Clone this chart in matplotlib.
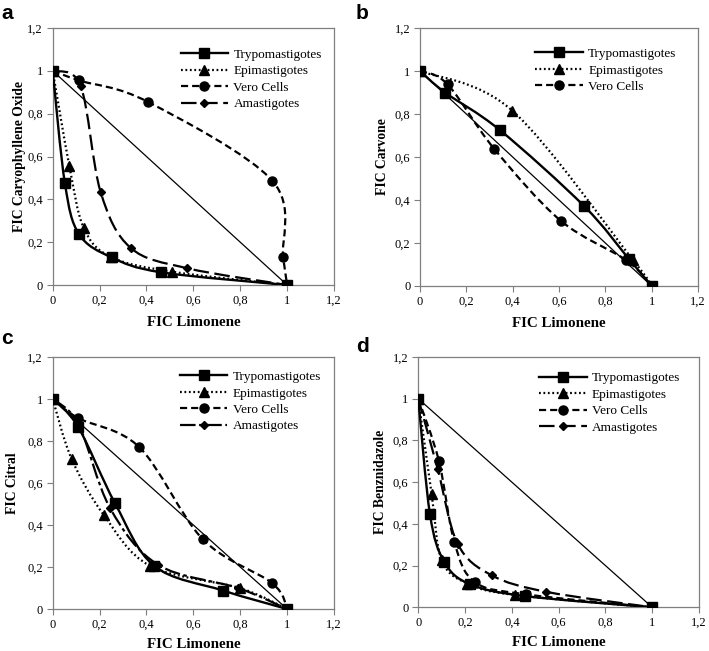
import numpy as np
import matplotlib
matplotlib.use("Agg")
import matplotlib.pyplot as plt
from matplotlib.path import Path
from matplotlib.patches import PathPatch
from matplotlib.lines import Line2D

# ---------------- data ----------------
tick_vals = [0, 0.2, 0.4, 0.6, 0.8, 1.0, 1.2]
tick_labels = ["0", "0,2", "0,4", "0,6", "0,8", "1", "1,2"]

x_label = "FIC Limonene"
y_labels = ["FIC Caryophyllene Oxide", "FIC Carvone", "FIC Citral", "FIC Benznidazole"]
panel_letters = ["a", "b", "c", "d"]

additive_x = [0, 1]
additive_y = [1, 0]

# panel a
a_tryp_x = [0, 0.052, 0.112, 0.251, 0.464, 1]
a_tryp_y = [1, 0.475, 0.238, 0.129, 0.059, 0]
a_epi_x = [0, 0.071, 0.133, 0.25, 0.51, 1]
a_epi_y = [1, 0.556, 0.265, 0.13, 0.062, 0]
a_vero_x = [0, 0.113, 0.408, 0.9375, 0.983, 1]
a_vero_y = [1, 0.955, 0.854, 0.486, 0.129, 0]
a_ama_x = [0, 0.119, 0.204, 0.332, 0.575, 1]
a_ama_y = [1, 0.93, 0.436, 0.174, 0.078, 0]

# panel b
b_tryp_x = [0, 0.108, 0.345, 0.709, 0.903, 1]
b_tryp_y = [1, 0.9, 0.725, 0.371, 0.124, 0]
b_epi_x = [0, 0.399, 0.92, 1]
b_epi_y = [1, 0.815, 0.12, 0]
b_vero_x = [0, 0.119, 0.321, 0.607, 0.89, 1]
b_vero_y = [1, 0.938, 0.637, 0.304, 0.12, 0]

# panel c
c_tryp_x = [0, 0.109, 0.266, 0.433, 0.726, 1]
c_tryp_y = [1, 0.866, 0.503, 0.205, 0.088, 0]
c_epi_x = [0, 0.081, 0.219, 0.416, 0.8, 1]
c_epi_y = [1, 0.714, 0.446, 0.205, 0.099, 0]
c_vero_x = [0, 0.109, 0.37, 0.641, 0.936, 1]
c_vero_y = [1, 0.909, 0.77, 0.331, 0.123, 0]
c_ama_x = [0, 0.11, 0.245, 0.45, 0.79, 1]
c_ama_y = [1, 0.88, 0.48, 0.21, 0.1, 0]

# panel d
d_tryp_x = [0, 0.05, 0.111, 0.22, 0.455, 1]
d_tryp_y = [1, 0.445, 0.218, 0.111, 0.054, 0]
d_epi_x = [0, 0.057, 0.1, 0.21, 0.413, 1]
d_epi_y = [1, 0.543, 0.226, 0.114, 0.059, 0]
d_vero_x = [0, 0.088, 0.154, 0.242, 0.462, 1]
d_vero_y = [1, 0.702, 0.313, 0.121, 0.062, 0]
d_ama_x = [0, 0.083, 0.168, 0.313, 0.548, 1]
d_ama_y = [1, 0.663, 0.305, 0.154, 0.074, 0]

series_names = ["Trypomastigotes", "Epimastigotes", "Vero Cells", "Amastigotes"]

# ---------------- styles ----------------
styles = {
    "Trypomastigotes": dict(ls="-", lw=1.7, marker="s", ms=6.5),
    "Epimastigotes": dict(ls=(0, (0.8, 1.2)), lw=1.6, marker="^", ms=6.5),
    "Vero Cells": dict(ls=(0, (3.2, 1.8)), lw=1.6, marker="o", ms=6.5),
    "Amastigotes": dict(ls=(0, (7, 2.5)), lw=1.6, marker="D", ms=4.5),
}
ama_c_ls = (0, (7, 1.6, 1.6, 1.6))

plt.rcParams["font.family"] = ["Liberation Serif", "DejaVu Serif"]

fig = plt.figure(figsize=(7.09, 6.51), dpi=100)

W, H = 709.0, 651.0
boxes = [
    (52.7, 28, 334.0, 285),
    (420.0, 28, 698.0, 286),
    (52.7, 357, 334.0, 609),
    (418.3, 357, 699.0, 607.3),
]
legend_anchor = [(0.455, 0.92), (0.415, 0.923), (0.452, 0.945), (0.43, 0.94)]
letter_pos = [(1, 19), (356, 19), (1, 344), (356, 352)]
ylabel_pads = [1, 4, 6, 4]
xlabel_pads = [7, 7, 5, 5]

panels = [
    [(a_tryp_x, a_tryp_y), (a_epi_x, a_epi_y), (a_vero_x, a_vero_y), (a_ama_x, a_ama_y)],
    [(b_tryp_x, b_tryp_y), (b_epi_x, b_epi_y), (b_vero_x, b_vero_y)],
    [(c_tryp_x, c_tryp_y), (c_epi_x, c_epi_y), (c_vero_x, c_vero_y), (c_ama_x, c_ama_y)],
    [(d_tryp_x, d_tryp_y), (d_epi_x, d_epi_y), (d_vero_x, d_vero_y), (d_ama_x, d_ama_y)],
]


def smooth_path(ax, xs, ys):
    """Bezier path through data points (Catmull-Rom style control points), built in display space."""
    pts = ax.transData.transform(np.column_stack([xs, ys]))
    n = len(pts)
    verts = [pts[0]]
    codes = [Path.MOVETO]
    t = 1.0 / 6.0
    for i in range(n - 1):
        p0 = pts[i - 1] if i > 0 else pts[i]
        p1 = pts[i]
        p2 = pts[i + 1]
        p3 = pts[i + 2] if i + 2 < n else pts[i + 1]
        c1 = p1 + (p2 - p0) * t
        c2 = p2 - (p3 - p1) * t
        verts += [c1, c2, p2]
        codes += [Path.CURVE4] * 3
    verts = ax.transData.inverted().transform(np.array(verts))
    return Path(verts, codes)


for k in range(4):
    l, t_, r, b = boxes[k]
    ax = fig.add_axes([l / W, 1 - b / H, (r - l) / W, (b - t_) / H])
    ax.set_xlim(0, 1.2)
    ax.set_ylim(0, 1.2)
    ax.plot(additive_x, additive_y, color="black", lw=0.9, zorder=2)
    handles = []
    for j, (xs, ys) in enumerate(panels[k]):
        name = series_names[j]
        st = styles[name]
        ls = st["ls"]
        if k == 2 and name == "Amastigotes":
            ls = ama_c_ls
        path = smooth_path(ax, xs, ys)
        patch = PathPatch(path, fill=False, edgecolor="black", lw=st["lw"],
                          linestyle=ls, zorder=3, capstyle="butt")
        ax.add_patch(patch)
        ax.plot(xs, ys, ls="none", marker=st["marker"], ms=st["ms"],
                color="black", zorder=4)
        handles.append(Line2D([], [], color="black", lw=st["lw"], linestyle=ls,
                              marker=st["marker"], ms=st["ms"]))
    leg = ax.legend(handles, series_names[:len(panels[k])], loc="upper left",
                    bbox_to_anchor=legend_anchor[k], frameon=False, fontsize=9.5,
                    handlelength=3.6, handletextpad=0.4, borderpad=0,
                    borderaxespad=0, labelspacing=0.32, numpoints=1)
    ax.set_xticks(tick_vals)
    ax.set_xticklabels(tick_labels)
    ax.set_yticks(tick_vals)
    ax.set_yticklabels(tick_labels)
    ax.tick_params(direction="out", length=4, width=0.8, color="#7f7f7f",
                   labelsize=9, pad=3)
    for s in ax.spines.values():
        s.set_color("#7f7f7f")
        s.set_linewidth(0.9)
    ax.set_xlabel(x_label, fontsize=10.8, fontweight="bold", labelpad=xlabel_pads[k])
    ax.set_ylabel(y_labels[k], fontsize=9.8, fontweight="bold", labelpad=ylabel_pads[k])
    fig.text(letter_pos[k][0] / W, 1 - letter_pos[k][1] / H, panel_letters[k],
             fontsize=15, fontweight="bold", family=["Liberation Sans", "DejaVu Sans"],
             ha="left", va="baseline")

fig.savefig("out.png", dpi=100)
